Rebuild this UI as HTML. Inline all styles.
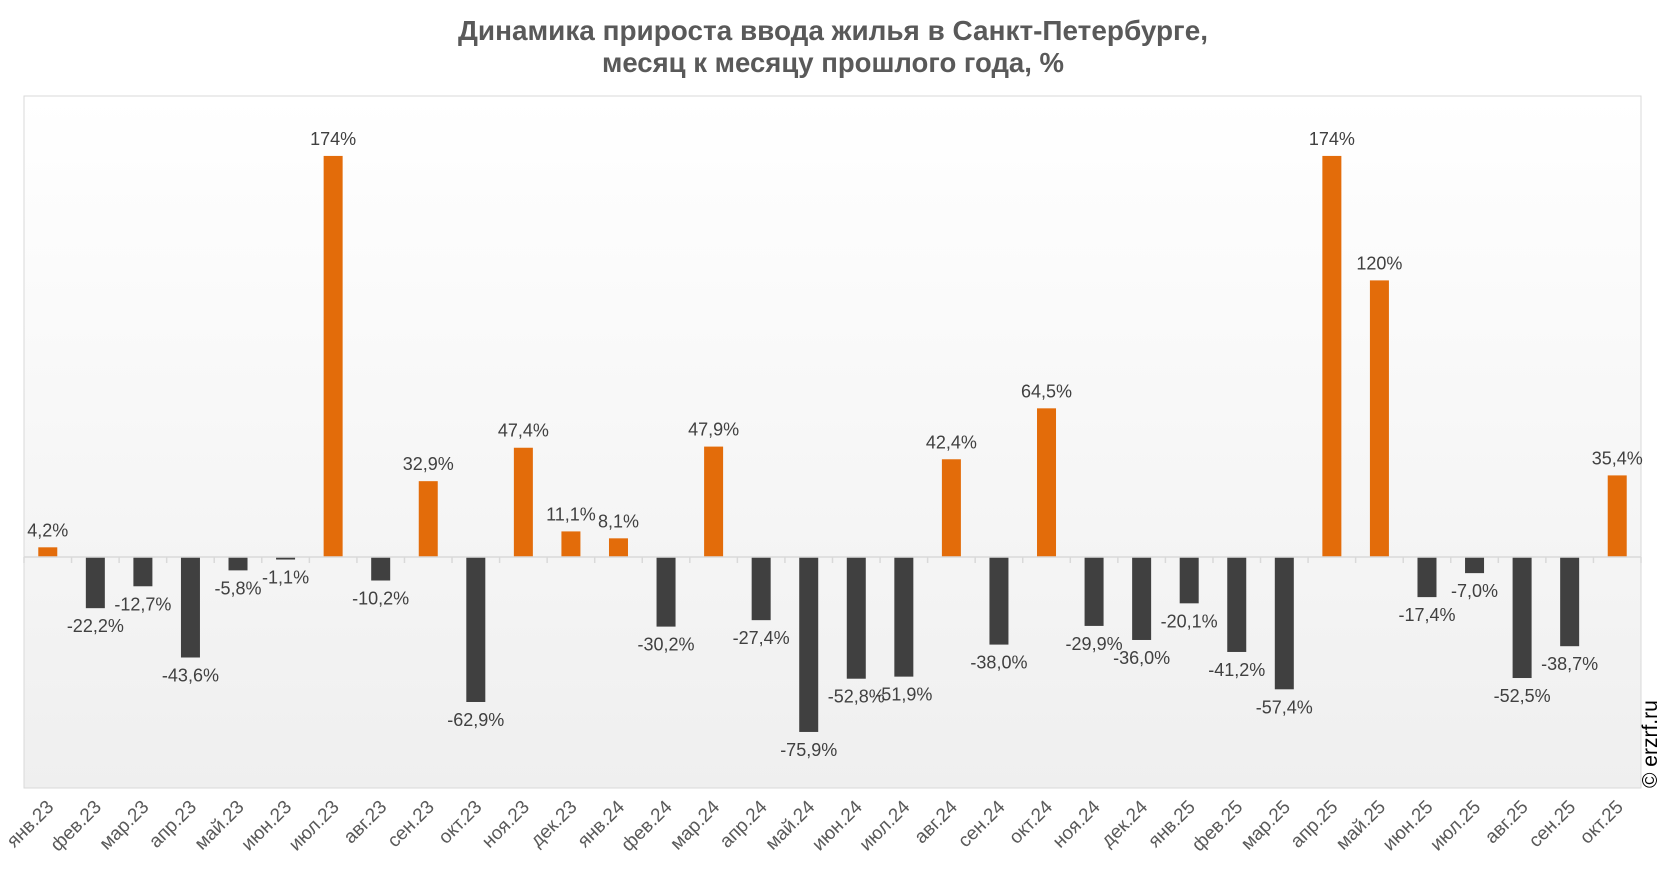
<!DOCTYPE html>
<html><head><meta charset="utf-8"><style>
html,body{margin:0;padding:0;background:#fff;}
svg{display:block;font-family:"Liberation Sans",sans-serif;}
</style></head><body>
<svg id="chart" width="1666" height="872" viewBox="0 0 1666 872" xmlns="http://www.w3.org/2000/svg">
<defs><linearGradient id="bg" x1="0" y1="0" x2="0" y2="1"><stop offset="0" stop-color="#ffffff"/><stop offset="1" stop-color="#efefef"/></linearGradient></defs>
<text x="833" y="40" text-anchor="middle" font-family="'Liberation Sans Narrow','Liberation Sans',sans-serif" font-weight="bold" font-size="28" fill="#595959" textLength="750" lengthAdjust="spacingAndGlyphs">Динамика прироста ввода жилья в Санкт-Петербурге,</text>
<text x="833" y="72" text-anchor="middle" font-family="'Liberation Sans Narrow','Liberation Sans',sans-serif" font-weight="bold" font-size="28" fill="#595959" textLength="462" lengthAdjust="spacingAndGlyphs">месяц к месяцу прошлого года, %</text>
<rect x="24" y="96" width="1617" height="692" fill="url(#bg)" stroke="#d9d9d9" stroke-width="1"/>
<g id="bars"></g><g id="ticks"></g><g id="vlabels"></g><g id="xlabels"></g>
<text transform="translate(1657,788) rotate(-90)" font-size="21" fill="#000">© erzrf.ru</text>
</svg>
<script>
const categories=["янв.23","фев.23","мар.23","апр.23","май.23","июн.23","июл.23","авг.23","сен.23","окт.23","ноя.23","дек.23","янв.24","фев.24","мар.24","апр.24","май.24","июн.24","июл.24","авг.24","сен.24","окт.24","ноя.24","дек.24","янв.25","фев.25","мар.25","апр.25","май.25","июн.25","июл.25","авг.25","сен.25","окт.25"];
const values=[4.2,-22.2,-12.7,-43.6,-5.8,-1.1,174,-10.2,32.9,-62.9,47.4,11.1,8.1,-30.2,47.9,-27.4,-75.9,-52.8,-51.9,42.4,-38.0,64.5,-29.9,-36.0,-20.1,-41.2,-57.4,174,120,-17.4,-7.0,-52.5,-38.7,35.4];
const valueLabels=["4,2%","-22,2%","-12,7%","-43,6%","-5,8%","-1,1%","174%","-10,2%","32,9%","-62,9%","47,4%","11,1%","8,1%","-30,2%","47,9%","-27,4%","-75,9%","-52,8%","-51,9%","42,4%","-38,0%","64,5%","-29,9%","-36,0%","-20,1%","-41,2%","-57,4%","174%","120%","-17,4%","-7,0%","-52,5%","-38,7%","35,4%"];
const NS="http://www.w3.org/2000/svg";
const x0=24,x1=1641,zeroY=557,pxPer=2.305;
const band=(x1-x0)/categories.length;
const xc=i=>x0+band*(i+0.5);
const y=v=>zeroY-v*pxPer;
function mk(tag,attrs,parent){const e=document.createElementNS(NS,tag);for(const k in attrs)e.setAttribute(k,attrs[k]);document.getElementById(parent).appendChild(e);return e;}
values.forEach((v,i)=>{
  const r=mk('rect',{x:xc(i)-9.5,y:Math.min(y(v),zeroY),width:19,height:Math.max(1,Math.abs(y(v)-zeroY)),fill:v>=0?'#e36c0a':'#404040'},'bars');
  
  
  const t=mk('text',{x:xc(i),y:v>=0?y(v)-11:y(v)+24,'text-anchor':'middle','font-size':18,fill:'#404040'},'vlabels');
  t.textContent=valueLabels[i];
  
  
  const xl=mk('text',{transform:'translate('+(xc(i)+7)+',808) rotate(-45)','text-anchor':'end','font-size':19,fill:'#595959'},'xlabels');
  xl.textContent=categories[i];
  
  
});
const ax=mk('line',{x1:x0,x2:x1,y1:zeroY,y2:zeroY,stroke:'#d9d9d9','stroke-width':1.5},'ticks');


for(let i=0;i<=categories.length;i++){
  const tk=mk('line',{x1:x0+band*i,x2:x0+band*i,y1:zeroY,y2:zeroY+6,stroke:'#d9d9d9','stroke-width':1.5},'ticks');
  
  
}
</script>
</body></html>
